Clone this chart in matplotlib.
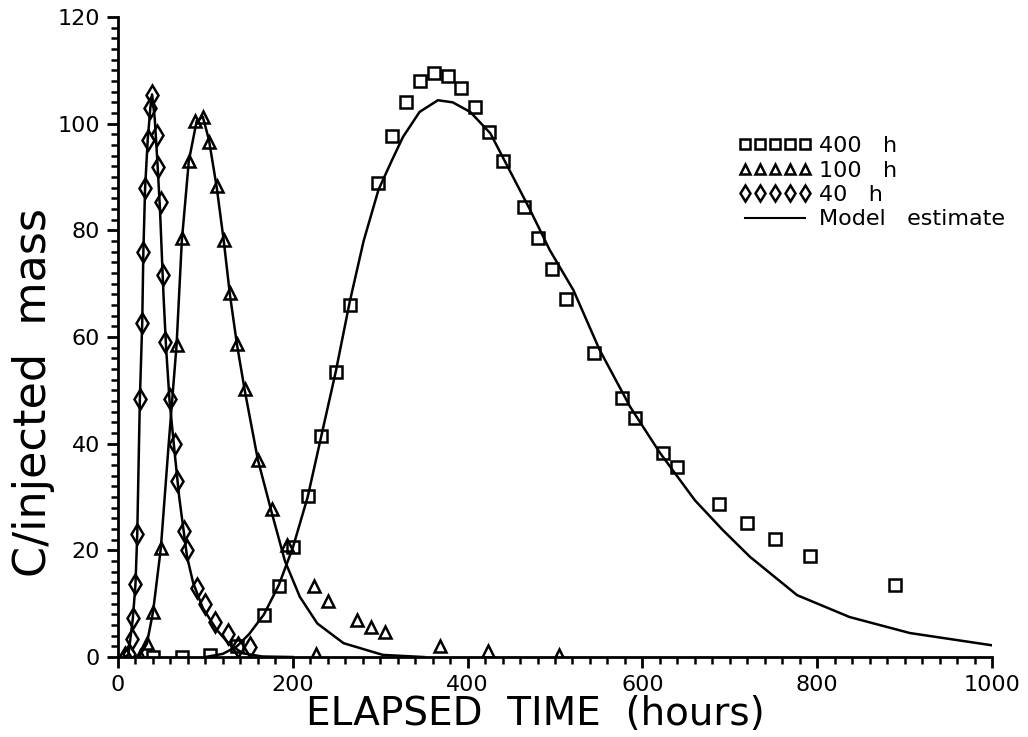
import matplotlib
matplotlib.use("Agg")
import matplotlib.pyplot as plt
from matplotlib.lines import Line2D
from matplotlib.ticker import MultipleLocator

# -----------------------------
# Data
# -----------------------------

# 400 h injection - squares
t_400 = [40, 73, 105, 136, 167, 184, 200, 217, 232, 249, 265, 298, 313, 329,
         345, 361, 377, 392, 409, 425, 441, 464, 481, 497, 513, 545, 577, 592,
         623, 639, 688, 720, 752, 792, 889]
c_400 = [0.0, 0.0, 0.3, 2.0, 7.9, 13.3, 20.7, 30.2, 41.4, 53.4, 66.0, 88.9, 97.7, 104.0,
         108.0, 109.5, 109.0, 106.7, 103.2, 98.4, 93.0, 84.4, 78.6, 72.7, 67.1, 57.0, 48.6, 44.8,
         38.3, 35.6, 28.7, 25.1, 22.1, 18.9, 13.5]

# 100 h injection - triangles
t_100 = [25, 33, 40, 49, 67, 73, 81, 88, 97, 104, 113, 121, 128, 136, 145,
         160, 176, 193, 224, 226, 240, 273, 289, 306, 368, 423, 505]
c_100 = [0.2, 2.6, 8.4, 20.4, 58.5, 78.5, 93.0, 100.5, 101.3, 96.5, 88.3, 78.2, 68.2, 58.7, 50.2,
         37.0, 27.8, 21.0, 13.3, 0.5, 10.5, 6.9, 5.7, 4.7, 2.1, 1.1, 0.4]

# 40 h injection - diamonds
t_40 = [8, 12, 16, 17, 20, 22, 25, 27.7, 29, 31, 34, 37, 39, 44.6, 46, 49,
        51.5, 54, 60, 65, 68, 75.5, 79, 90.6, 99.5, 111, 126, 137, 151]
c_40 = [0.0, 0.5, 3.4, 7.3, 13.7, 23.0, 48.4, 62.6, 76.0, 88.0, 97.0, 103.0, 105.4, 97.9, 91.9, 85.3,
        71.6, 59.0, 48.3, 40.0, 33.0, 23.6, 20.0, 12.9, 9.9, 6.6, 4.3, 1.9, 1.9]

# model estimates (solid lines)
mt_40 = [8, 12, 17, 20, 22, 25, 27.7, 29, 31, 34, 37, 39, 42, 45, 48, 52,
         55, 59, 65, 70, 79, 86, 97, 113, 128, 143, 165, 200]
mc_40 = [0.0, 0.5, 7.3, 13.7, 23.0, 48.4, 62.6, 76.0, 88.0, 97.0, 103.0, 105.5, 101.0, 93.0, 84.0, 68.0,
         58.0, 48.0, 38.0, 30.0, 18.8, 13.9, 9.2, 5.1, 2.3, 0.7, 0.1, 0.0]

mt_100 = [20, 25, 33, 40, 49, 58, 67, 73, 81, 90, 97, 104, 113, 121, 128, 136,
          145, 160, 176, 191, 208, 228, 258, 303, 350]
mc_100 = [0.0, 0.3, 2.5, 8.4, 20.4, 40.0, 58.5, 78.0, 93.0, 100.5, 101.3, 97.0, 88.0, 78.0, 68.0, 58.7,
          50.0, 37.0, 27.0, 18.0, 11.3, 6.3, 2.6, 0.4, 0.0]

mt_400 = [100, 120, 136, 150, 167, 184, 200, 217, 232, 249, 265, 281, 298, 313,
          326, 345, 366, 383, 403, 426, 452, 471, 494, 521, 551, 586, 620, 660,
          692, 723, 777, 837, 906, 1000]
mc_400 = [0.0, 0.6, 2.0, 4.3, 8.0, 13.5, 20.5, 30.0, 41.0, 53.4, 66.5, 78.0, 87.6, 93.0,
          97.5, 102.2, 104.4, 104.0, 102.2, 98.2, 90.0, 84.0, 76.3, 68.8, 57.6, 46.9, 38.3, 29.4,
          23.8, 18.8, 11.6, 7.5, 4.5, 2.2]

# -----------------------------
# Plot
# -----------------------------

fig = plt.figure(figsize=(10.28, 7.37), dpi=100)
ax = fig.add_axes([0.1148, 0.1085, 0.8502, 0.8684])

ax.plot(mt_40, mc_40, color="black", lw=1.8, zorder=3)
ax.plot(mt_100, mc_100, color="black", lw=1.8, zorder=3)
ax.plot(mt_400, mc_400, color="black", lw=1.8, zorder=3)

mk = dict(linestyle="none", markerfacecolor="none", markeredgecolor="black",
          markeredgewidth=1.8, zorder=4)
ax.plot(t_400, c_400, marker="s", markersize=8.5, **mk)
ax.plot(t_100, c_100, marker="^", markersize=9, **mk)
ax.plot(t_40, c_40, marker="d", markersize=10, **mk)

ax.set_xlim(0, 1000)
ax.set_ylim(0, 120)
ax.xaxis.set_major_locator(MultipleLocator(200))
ax.xaxis.set_minor_locator(MultipleLocator(20))
ax.yaxis.set_major_locator(MultipleLocator(20))
ax.yaxis.set_minor_locator(MultipleLocator(2))

ax.spines["top"].set_visible(False)
ax.spines["right"].set_visible(False)
ax.spines["left"].set_linewidth(2)
ax.spines["bottom"].set_linewidth(2)
ax.tick_params(which="major", direction="out", length=8, width=2, labelsize=16, pad=5)
ax.tick_params(which="minor", direction="out", length=5, width=1.8)

ax.set_xlabel("ELAPSED  TIME  (hours)", fontsize=28)
ax.set_ylabel("C/injected  mass", fontsize=32)
ax.xaxis.set_label_coords(0.477, -0.06)
ax.yaxis.set_label_coords(-0.072, 0.414)

# legend
handles = [
    Line2D([], [], marker="s", markersize=7, **mk),
    Line2D([], [], marker="^", markersize=7.5, **mk),
    Line2D([], [], marker="d", markersize=8.5, **mk),
    Line2D([], [], color="black", lw=1.5),
]
labels = ["400   h", "100   h", "40   h", "Model   estimate"]
ax.legend(handles, labels, loc="upper left", bbox_to_anchor=(0.71, 0.814),
          frameon=False, fontsize=16, numpoints=5, handlelength=3.3,
          handletextpad=0.3, labelspacing=0.2, borderpad=0, borderaxespad=0)

plt.savefig("out.png", dpi=100)
